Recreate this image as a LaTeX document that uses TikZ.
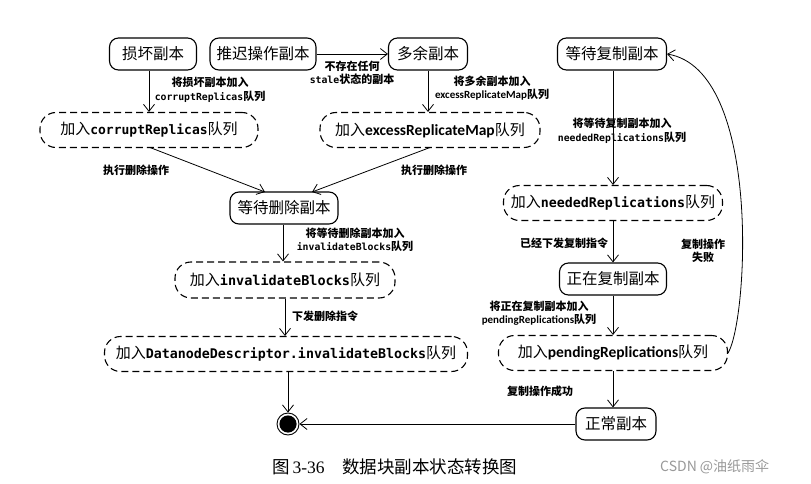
\documentclass[tikz,border=0pt]{standalone}
\usepackage{fontspec}
\setmainfont{Noto Sans CJK SC}
\setmonofont{DejaVu Sans Mono}
\newfontfamily\propfont{Carlito}
\newfontfamily\latserif{Liberation Serif}
\usetikzlibrary{arrows.meta}
\begin{document}
\begin{tikzpicture}[x=1pt,y=-1pt,
  >={Straight Barb[length=7pt,width=11pt]},
  every node/.style={inner sep=0pt},
  state/.style={draw,line width=1.1pt,rounded corners=9pt,minimum height=32pt,font=\fontsize{15.5}{17}\selectfont},
  queue/.style={draw,line width=1.1pt,dash pattern=on 7pt off 4pt,rounded corners=16pt,minimum height=35pt,font=\fontsize{15}{17}\selectfont},
  lbl/.style={font=\fontsize{11}{13.5}\selectfont\bfseries,align=center},
  conn/.style={->,line width=0.8pt}
]
\useasboundingbox (0,0) rectangle (811,484);
\fill[white] (0,0) rectangle (811,484);

% states
\node[state,minimum width=87pt] (damaged) at (153,54) {损坏副本};
\node[state,minimum width=106pt] (delayed) at (263,54) {推迟操作副本};
\node[state,minimum width=79pt] (excess) at (428,54) {多余副本};
\node[state,minimum width=109pt] (waitrep) at (612,54) {等待复制副本};
\node[state,minimum width=108pt] (waitdel) at (284,208) {等待删除副本};
\node[state,minimum width=107pt] (replicating) at (613,279) {正在复制副本};
\node[state,minimum width=80pt] (normal) at (616,424) {正常副本};

% queues
\node[queue,minimum width=218pt] (qcorrupt) at (149,130) {加入{\ttfamily\bfseries\fontsize{13}{16}\selectfont corruptReplicas}队列};
\node[queue,minimum width=220pt] (qexcess) at (430,130) {加入{\propfont\bfseries\fontsize{15.5}{16}\selectfont excessReplicateMap}队列};
\node[queue,minimum width=220pt,minimum height=36pt] (qinval) at (285,280) {加入{\ttfamily\bfseries\fontsize{13.5}{16}\selectfont invalidateBlocks}队列};
\node[queue,minimum width=363pt] (qdn) at (286,354) {加入{\ttfamily\bfseries\fontsize{13.3}{16}\selectfont DatanodeDescriptor.invalidateBlocks}队列};
\node[queue,minimum width=219pt] (qneeded) at (613,203) {加入{\ttfamily\bfseries\fontsize{13.3}{16}\selectfont neededReplications}队列};
\node[queue,minimum width=229pt] (qpending) at (613,353) {加入{\propfont\bfseries\fontsize{15.5}{16}\selectfont pendingReplications}队列};

% final state
\node[circle,draw,line width=0.9pt,minimum size=22pt] (final) at (288,424) {};
\fill (final.center) circle (8.6pt);

% connectors
\draw[conn] (damaged.south -| qcorrupt.north) -- (qcorrupt.north);
\node[lbl] (l1) at (210,90) {将损坏副本加入\\{\ttfamily\fontsize{9.8}{13}\selectfont corruptReplicas}队列};

\draw[conn] (delayed.east) -- (excess.west);
\node[lbl] (l2) at (352,73) {不存在任何\\{\ttfamily\fontsize{9.8}{13}\selectfont stale}状态的副本};

\draw[conn] (excess.south) -- (excess.south |- qexcess.north);
\node[lbl] (l3) at (492,88) {将多余副本加入\\{\propfont\fontsize{11}{13}\selectfont\bfseries excessReplicateMap}队列};

\coordinate (c1) at (150,147.5);
\coordinate (c2) at (430,147.5);
\coordinate (e1) at (265,192);
\coordinate (e2) at (312,192);
\draw[conn] (c1) -- (e1);
\draw[conn] (c2) -- (e2);
\node[lbl] (l4) at (136,170) {执行删除操作};
\node[lbl] (l5) at (434,170) {执行删除操作};

\draw[conn] (waitdel.south -| 283,0) -- (qinval.north -| 283,0);
\node[lbl] (l6) at (355,240) {将等待删除副本加入\\{\ttfamily\fontsize{9.8}{13}\selectfont invalidateBlocks}队列};

\draw[conn] (qinval.south) -- (qdn.north -| qinval.south);
\node[lbl] (l7) at (325,316) {下发删除指令};

\draw[conn] (qdn.south -| final.north) -- (final.north);

\draw[conn] (waitrep.south -| 613,0) -- (qneeded.north);
\node[lbl] (l8) at (622,131) {将等待复制副本加入\\{\ttfamily\fontsize{9.8}{13}\selectfont neededReplications}队列};

\draw[conn] (qneeded.south) -- (replicating.north);
\node[lbl] (l9) at (564,243) {已经下发复制指令};

\draw[conn] (replicating.south) -- (qpending.north);
\node[lbl] (l10) at (539,313) {将正在复制副本加入\\{\propfont\fontsize{11}{13}\selectfont\bfseries pendingReplications}队列};

\draw[conn] (qpending.south) -- (qpending.south |- normal.north);
\node[lbl] (l11) at (540,391) {复制操作成功};

\draw[conn] (normal.west) -- (final.east);

\draw[conn] (qpending.east) .. controls (748,320) and (762,70) .. (waitrep.east);
\node[lbl] (l12) at (703,251) {复制操作\\失败};

% caption
\node[font=\fontsize{17.5}{20}\selectfont,anchor=west] (cap) at (272,467) {图\,{\latserif 3-36}\hspace{1em}数据块副本状态转换图};
\node[font=\fontsize{14}{16}\selectfont,text=black!40,anchor=west] (wm) at (660,467) {CSDN @油纸雨伞};
\end{tikzpicture}
\end{document}
